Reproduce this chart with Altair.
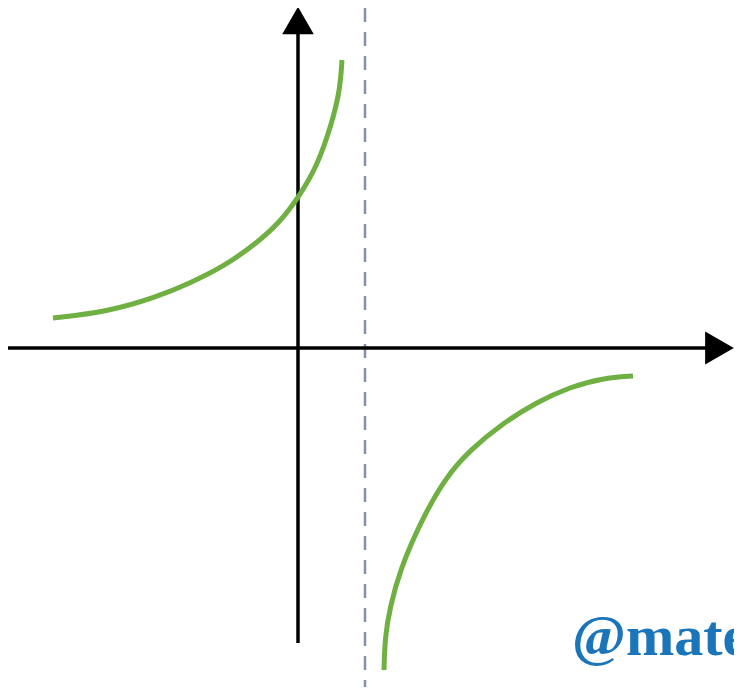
import altair as alt
import pandas as pd

# Curve points (math units, origin at the axes crossing)
left_x = [-4.90, -3.82, -2.82, -2.16, -1.50, -0.82, -0.36, 0.00, 0.38, 0.68, 0.84, 0.88]
left_y = [0.60, 0.72, 1.02, 1.30, 1.62, 2.10, 2.52, 3.00, 3.62, 4.50, 5.16, 5.76]
right_x = [1.72, 1.74, 1.84, 2.04, 2.44, 2.94, 3.44, 4.10, 4.78, 5.44, 6.10, 6.70]
right_y = [-6.44, -5.78, -5.18, -4.44, -3.50, -2.60, -2.04, -1.50, -1.08, -0.78, -0.60, -0.56]

asymptote_x = 1.34
x_axis_span = [-5.8, 8.20]
y_axis_span = [-5.90, 6.30]
arrow_x = [8.43]
arrow_y = [6.55]
label_text = "@mate"
label_pos = [5.48, -6.14]

X_DOM = [-5.8, 8.72]
Y_DOM = [-6.78, 6.8]
W, H = 726, 679

xs = alt.Scale(domain=X_DOM, nice=False, zero=False)
ys = alt.Scale(domain=Y_DOM, nice=False, zero=False)

curves = pd.DataFrame({
    "x": left_x + right_x,
    "y": left_y + right_y,
    "branch": ["left"] * len(left_x) + ["right"] * len(right_x),
    "order": list(range(len(left_x))) + list(range(len(right_x))),
})

asym = pd.DataFrame({"x": [asymptote_x], "y": [Y_DOM[1]], "y2": [Y_DOM[0]]})
xaxis = pd.DataFrame({"x": [x_axis_span[0]], "x2": [x_axis_span[1]], "y": [0.0]})
yaxis = pd.DataFrame({"x": [0.0], "y": [y_axis_span[0]], "y2": [y_axis_span[1]]})
arr_r = pd.DataFrame({"x": arrow_x, "y": [0.0]})
arr_u = pd.DataFrame({"x": [0.0], "y": arrow_y})
lab = pd.DataFrame({"x": [label_pos[0]], "y": [label_pos[1]], "t": [label_text]})

X = lambda f="x": alt.X(f"{f}:Q", scale=xs, axis=None)
Y = lambda f="y": alt.Y(f"{f}:Q", scale=ys, axis=None)

asym_layer = alt.Chart(asym).mark_rule(
    color="#8390a8", strokeWidth=2.5, strokeDash=[14, 10]
).encode(x=X(), y=Y(), y2="y2:Q")

xaxis_layer = alt.Chart(xaxis).mark_rule(color="black", strokeWidth=3.5).encode(
    x=X(), x2="x2:Q", y=Y()
)
yaxis_layer = alt.Chart(yaxis).mark_rule(color="black", strokeWidth=3.5).encode(
    x=X(), y=Y(), y2="y2:Q"
)
arr_r_layer = alt.Chart(arr_r).mark_point(
    shape="triangle-right", filled=True, color="black", size=1100, opacity=1
).encode(x=X(), y=Y())
arr_u_layer = alt.Chart(arr_u).mark_point(
    shape="triangle-up", filled=True, color="black", size=1000, opacity=1
).encode(x=X(), y=Y())

curve_layer = alt.Chart(curves).mark_line(
    color="#70b043", strokeWidth=5, interpolate="basis"
).encode(x=X(), y=Y(), detail="branch:N", order="order:Q")

text_layer = alt.Chart(lab).mark_text(
    align="left", baseline="alphabetic", font="Liberation Serif",
    fontWeight="bold", fontSize=58, color="#1b75bb"
).encode(x=X(), y=Y(), text="t:N")

chart = alt.layer(
    asym_layer, xaxis_layer, yaxis_layer, arr_r_layer, arr_u_layer, curve_layer, text_layer
).properties(
    width=W, height=H, padding=0, autosize=alt.AutoSizeParams(type="none")
).configure_view(stroke=None)

chart.save("out.html", embed_options={"renderer": "svg", "actions": False})
